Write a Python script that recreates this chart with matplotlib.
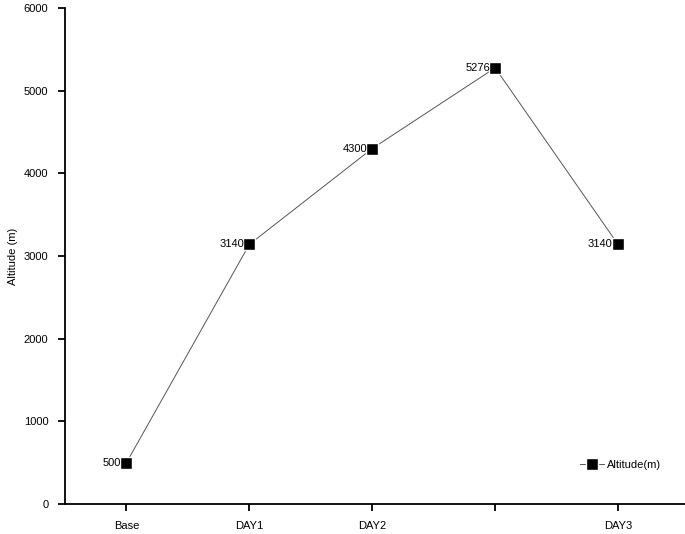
import matplotlib
matplotlib.use("Agg")
import matplotlib.pyplot as plt

categories = ["Base", "DAY1", "DAY2", "", "DAY3"]
altitude = [500, 3140, 4300, 5276, 3140]
yticks = [0, 1000, 2000, 3000, 4000, 5000, 6000]

plt.rcParams['font.family'] = ['Liberation Sans', 'DejaVu Sans']

fig = plt.figure(figsize=(6.85, 5.34), dpi=100)
ax = fig.add_axes([65/685, 1-504/534, 1-65/685, (504-8)/534])

x = list(range(len(categories)))
ax.plot(x, altitude, color='#555555', linewidth=0.7, marker='s', markersize=9,
        markerfacecolor='black', markeredgecolor='white', markeredgewidth=1.0,
        label='Altitude(m)')
for xi, v in zip(x, altitude):
    ax.annotate(str(v), (xi, v), xytext=(-3.8, 0), textcoords='offset points',
                ha='right', va='center', fontsize=8)

ax.set_xlim(-0.5, 4.545)
ax.set_ylim(0, 6000)
ax.set_xticks(x)
ax.set_xticklabels(categories)
ax.set_yticks(yticks)
ax.tick_params(axis='both', direction='out', length=5, width=1.3, labelsize=8, pad=7)
for s in ['top', 'right']:
    ax.spines[s].set_visible(False)
for s in ['left', 'bottom']:
    ax.spines[s].set_linewidth(1.3)
ax.set_ylabel('Altitude (m)', fontsize=8)

leg = ax.legend(loc='center left', bbox_to_anchor=((580-65)/620, (504-465)/496),
                frameon=False, fontsize=8, borderpad=0, borderaxespad=0,
                handlelength=2.2, handletextpad=0.2)

fig.savefig('out.png', dpi=100)
